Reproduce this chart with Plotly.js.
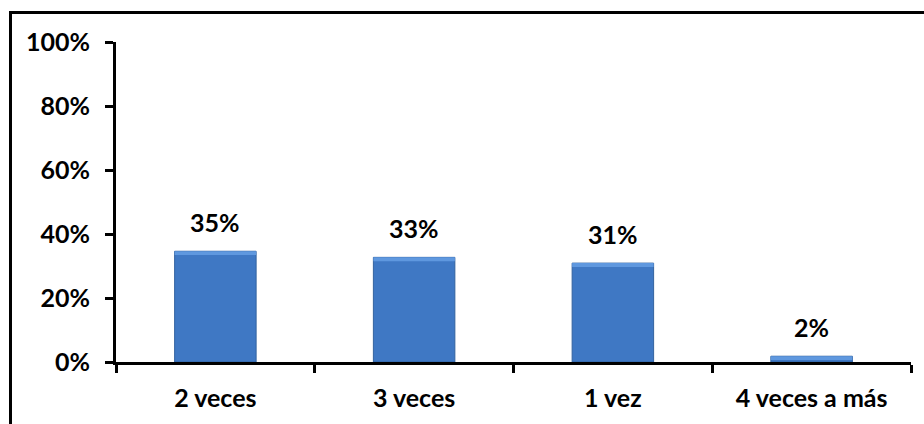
<!DOCTYPE html>
<html>
<head>
<meta charset="utf-8">
<script src="https://cdn.plot.ly/plotly-3.0.1.min.js"></script>
<style>
  html, body { margin: 0; padding: 0; background: #ffffff; overflow: hidden; }
  #wrap { position: relative; width: 924px; height: 424px; }
  #chart { position: absolute; left: 0; top: 0; width: 924px; height: 424px; }
  #frame {
    position: absolute; left: 9px; top: 11px; width: 1000px; height: 1000px;
    border-left: 3px solid #000; border-top: 3px solid #000;
    box-shadow: 0 1px 0 #b0b0b0;
    pointer-events: none;
  }
</style>
</head>
<body>
<div id="wrap">
  <div id="chart"></div>
  <div id="frame"></div>
</div>
<script>
// Frecuencia: categorías y porcentajes
const categories = ['2 veces', '3 veces', '1 vez', '4 veces a más'];
const percentages = [34.6, 32.7, 30.9, 1.8];
const yTicks = [0, 20, 40, 60, 80, 100];

const FONT = { family: 'Lato, "Open Sans", sans-serif', size: 25, color: '#000000', weight: 'bold' };

// thin lighter band at the top of each bar (bevel highlight)
const bevel = 1.2;
const bevelBase = percentages.map(v => Math.max(v - bevel, 0));
const bevelHeight = percentages.map(v => Math.min(bevel, v));

const bars = {
  type: 'bar',
  x: categories,
  y: percentages,
  marker: { color: '#3f78c4', line: { color: '#33629f', width: 1 } },
  hoverinfo: 'skip'
};
const highlight = {
  type: 'bar',
  x: categories,
  y: bevelHeight,
  base: bevelBase,
  marker: { color: '#5f98df', line: { width: 0 } },
  hoverinfo: 'skip'
};

const labels = categories.map((c, i) => ({
  x: c,
  y: percentages[i],
  xref: 'x', yref: 'y',
  text: Math.round(percentages[i]) + '%',
  showarrow: false,
  yanchor: 'bottom',
  yshift: 12,
  font: FONT
}));

const layout = {
  width: 924,
  height: 424,
  margin: { l: 116, r: 13, t: 42, b: 62 },
  paper_bgcolor: '#ffffff',
  plot_bgcolor: '#ffffff',
  showlegend: false,
  barmode: 'overlay',
  bargap: 0.59,
  font: FONT,
  xaxis: {
    type: 'category',
    showgrid: false,
    zeroline: false,
    showline: true,
    linecolor: '#000000',
    linewidth: 3,
    ticks: 'outside',
    tickson: 'boundaries',
    ticklen: 8,
    tickwidth: 3,
    tickcolor: '#000000',
    ticklabelstandoff: 12,
    tickfont: FONT
  },
  yaxis: {
    range: [0, 100],
    tickvals: yTicks,
    ticktext: yTicks.map(v => v + '%'),
    showgrid: false,
    zeroline: false,
    showline: true,
    linecolor: '#000000',
    linewidth: 3,
    ticks: 'outside',
    ticklen: 8,
    tickwidth: 3,
    tickcolor: '#000000',
    ticklabelstandoff: 10,
    tickfont: FONT
  },
  annotations: labels
};

Plotly.newPlot('chart', [bars, highlight], layout, { staticPlot: true, displayModeBar: false });
</script>
</body>
</html>
